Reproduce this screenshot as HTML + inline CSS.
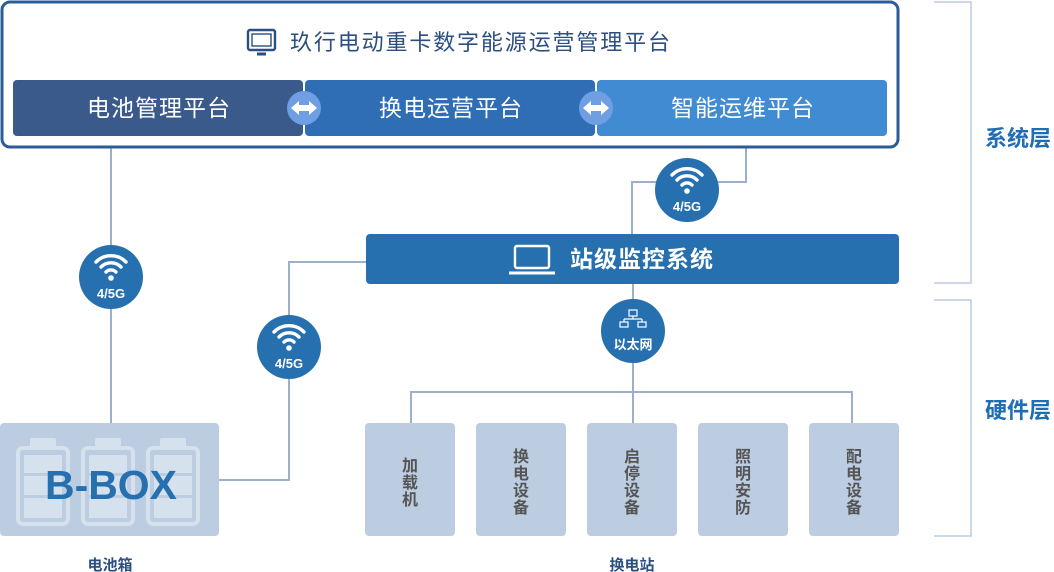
<!DOCTYPE html>
<html><head><meta charset="utf-8"><style>
html,body{margin:0;padding:0;background:#fff;width:1054px;height:572px;overflow:hidden}
svg{display:block}
text{font-family:"Liberation Sans","Noto Sans CJK SC",sans-serif}
</style></head><body>
<svg width="1054" height="572" viewBox="0 0 1054 572">
<defs>
<g id="wifi" fill="none" stroke="#fff" stroke-width="3.4" stroke-linecap="round">
<path d="M-15,-8 A21,21 0 0 1 15,-8"/>
<path d="M-10,-3 A14,14 0 0 1 10,-3"/>
<path d="M-5,2 A7,7 0 0 1 5,2"/>
<circle cx="0" cy="8" r="2.8" fill="#fff" stroke="none"/>
</g>
</defs>
<g stroke="#9ab0cc" stroke-width="2" fill="none">
<path d="M111,135 V423"/>
<path d="M219,480 H289 V262 H366"/>
<path d="M746,135 V182 H632 V234"/>
<path d="M633,284 V423"/>
<path d="M411,423 V392 H852 V423"/>
</g>
<g stroke="#b9cbe0" stroke-width="1.5" fill="none">
<path d="M934,2 H971 V283 H934"/>
<path d="M934,300 H971 V536 H934"/>
</g>
<rect x="2" y="2" width="896" height="145" rx="8" fill="#fff" stroke="#2b5c99" stroke-width="3"/>
<g transform="translate(247,29)" fill="none" stroke="#2b4f80" stroke-width="2.4">
<rect x="1" y="1" width="27" height="20" rx="2"/>
<rect x="5" y="5" width="19" height="12" stroke-width="1.4"/>
<path d="M10,25 H19" stroke-width="3"/>
</g>
<text x="290" y="50" font-size="22" fill="#2b4f80" textLength="380" lengthAdjust="spacing">玖行电动重卡数字能源运营管理平台</text>
<rect x="13" y="80" width="290" height="56" rx="4" fill="#3a5a8c"/>
<rect x="305" y="80" width="290" height="56" rx="4" fill="#2f6db5"/>
<rect x="597" y="80" width="290" height="56" rx="4" fill="#418bd2"/>
<text x="87" y="116" font-size="23" fill="#fff" textLength="143" lengthAdjust="spacing">电池管理平台</text>
<text x="379" y="116" font-size="23" fill="#fff" textLength="143" lengthAdjust="spacing">换电运营平台</text>
<text x="671" y="116" font-size="23" fill="#fff" textLength="143" lengthAdjust="spacing">智能运维平台</text>
<g fill="#6f9fe2"><circle cx="304" cy="108" r="17"/><circle cx="596" cy="108" r="17"/></g>
<g fill="#fff">
<path d="M291,108 l8,-7 v4 h10 v-4 l8,7 l-8,7 v-4 h-10 v4 z"/>
<path d="M583,108 l8,-7 v4 h10 v-4 l8,7 l-8,7 v-4 h-10 v4 z"/>
</g>
<rect x="366" y="234" width="533" height="50" rx="4" fill="#2670b0"/>
<g fill="none" stroke="#fff" stroke-width="2.4">
<rect x="515" y="246" width="34" height="22" rx="2"/>
<path d="M509,273 H555" stroke-width="3"/>
</g>
<text x="570" y="267" font-size="23" fill="#fff" font-weight="bold" textLength="143" lengthAdjust="spacing">站级监控系统</text>
<g fill="#2670b0">
<circle cx="111" cy="277" r="32"/><circle cx="289" cy="347" r="32"/>
<circle cx="687" cy="190" r="32"/><circle cx="633" cy="331" r="32"/>
</g>
<use href="#wifi" x="111" y="270"/><use href="#wifi" x="289" y="340"/><use href="#wifi" x="687" y="183"/>
<g fill="#fff" font-size="13" font-weight="bold" text-anchor="middle">
<text x="111" y="298">4/5G</text><text x="289" y="368">4/5G</text><text x="687" y="211">4/5G</text>
<text x="633" y="349">以太网</text>
</g>
<g fill="none" stroke="#fff" stroke-width="1.2">
<rect x="629" y="310" width="8" height="6"/><path d="M633,316 v3 M624,319 h18 M624,319 v3 M642,319 v3"/>
<rect x="620" y="322" width="8" height="5"/><rect x="638" y="322" width="8" height="5"/>
</g>
<rect x="0" y="423" width="219" height="113" rx="4" fill="#bccde2"/>
<g fill="none" stroke="#d6e1ee" stroke-width="4">
<rect x="18" y="448" width="50" height="76" rx="5"/>
<rect x="83" y="448" width="50" height="76" rx="5"/>
<rect x="148" y="448" width="50" height="76" rx="5"/>
</g>
<g fill="#d6e1ee">
<rect x="30" y="438" width="26" height="10" rx="2"/><rect x="95" y="438" width="26" height="10" rx="2"/><rect x="160" y="438" width="26" height="10" rx="2"/>
<rect x="24" y="455" width="38" height="18"/><rect x="24" y="476" width="38" height="19"/><rect x="24" y="498" width="38" height="20"/>
<rect x="89" y="455" width="38" height="18"/><rect x="89" y="476" width="38" height="19"/><rect x="89" y="498" width="38" height="20"/>
<rect x="154" y="455" width="38" height="18"/><rect x="154" y="476" width="38" height="19"/><rect x="154" y="498" width="38" height="20"/>
</g>
<text x="45" y="499" font-size="41" font-weight="bold" fill="#2670b0" textLength="132" lengthAdjust="spacingAndGlyphs">B-BOX</text>
<text x="110" y="570" font-size="15" font-weight="bold" fill="#2b4f80" text-anchor="middle">电池箱</text>
<g fill="#bccde2">
<rect x="365" y="423" width="90" height="113" rx="4"/><rect x="476" y="423" width="90" height="113" rx="4"/>
<rect x="587" y="423" width="90" height="113" rx="4"/><rect x="698" y="423" width="90" height="113" rx="4"/>
<rect x="809" y="423" width="90" height="113" rx="4"/>
</g>
<g fill="#555" font-size="16" font-weight="bold" text-anchor="middle">
<text x="410" y="471">加</text><text x="410" y="488">载</text><text x="410" y="505">机</text>
<text x="521" y="462">换</text><text x="521" y="479">电</text><text x="521" y="496">设</text><text x="521" y="513">备</text>
<text x="632" y="462">启</text><text x="632" y="479">停</text><text x="632" y="496">设</text><text x="632" y="513">备</text>
<text x="743" y="462">照</text><text x="743" y="479">明</text><text x="743" y="496">安</text><text x="743" y="513">防</text>
<text x="854" y="462">配</text><text x="854" y="479">电</text><text x="854" y="496">设</text><text x="854" y="513">备</text>
</g>
<text x="632" y="570" font-size="15" font-weight="bold" fill="#2b4f80" text-anchor="middle">换电站</text>
<text x="1018" y="146" font-size="22" font-weight="bold" fill="#1f6db3" text-anchor="middle">系统层</text>
<text x="1018" y="418" font-size="22" font-weight="bold" fill="#1f6db3" text-anchor="middle">硬件层</text>
</svg>
</body></html>
